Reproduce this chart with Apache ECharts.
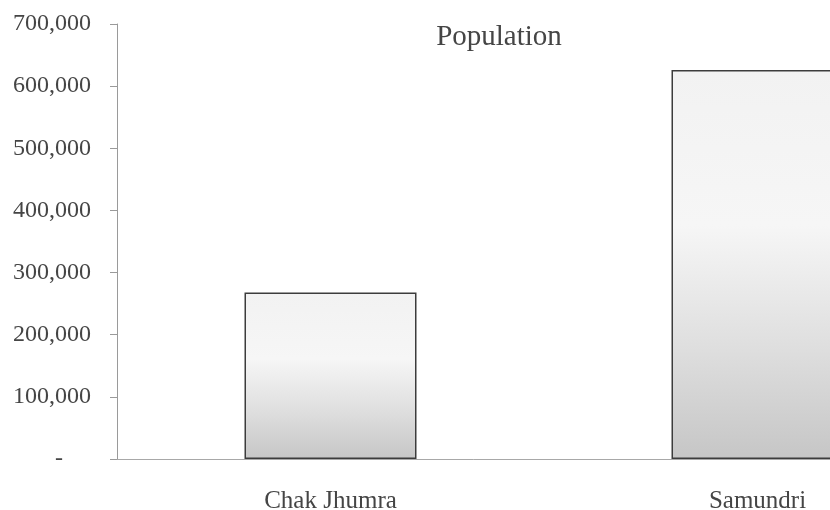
<!DOCTYPE html>
<html>
<head>
<meta charset="utf-8">
<style>
  html, body { margin: 0; padding: 0; background: #ffffff; }
  #chart { width: 830px; height: 510px; }
</style>
<script src="https://cdn.jsdelivr.net/npm/echarts@6/dist/echarts.min.js"></script>
</head>
<body>
<div id="chart"></div>
<script>
// Population by tehsil
const categories = ['Chak Jhumra', 'Samundri'];
const population = [268000, 626000];
const yTicks = { min: 0, max: 700000, interval: 100000 };

const serif = '"Liberation Serif", "Times New Roman", serif';
const textColor = '#454545';

const chart = echarts.init(document.getElementById('chart'));

chart.setOption({
  animation: false,
  backgroundColor: '#ffffff',
  title: {
    text: 'Population',
    left: 494,
    top: 18,
    textAlign: 'center',
    textStyle: { fontFamily: serif, fontSize: 29, fontWeight: 'normal', color: textColor }
  },
  // the plot runs past the right edge, so the second column is cut off
  grid: {
    left: 117, top: 24, width: 854, height: 435,
    containLabel: false,
    outerBoundsMode: 'none'
  },
  xAxis: {
    type: 'category',
    data: categories,
    boundaryGap: true,
    axisLine: { show: true, lineStyle: { color: '#a8a8a8', width: 1 } },
    axisTick: { show: false },
    axisLabel: {
      margin: 30,
      fontFamily: serif,
      fontSize: 25,
      color: textColor
    },
    splitLine: { show: false }
  },
  yAxis: {
    type: 'value',
    min: yTicks.min,
    max: yTicks.max,
    interval: yTicks.interval,
    axisLine: { show: true, lineStyle: { color: '#9a9a9a', width: 1 } },
    axisTick: { show: true, inside: false, length: 7, lineStyle: { color: '#9a9a9a' } },
    splitLine: { show: false },
    axisLabel: {
      margin: 26,
      fontFamily: serif,
      fontSize: 24,
      color: textColor,
      formatter: function (v) {
        if (v === 0) return '{dash|-}';
        return v.toLocaleString('en-US');
      },
      rich: {
        dash: { fontFamily: serif, fontSize: 24, color: textColor, padding: [0, 28, 0, 0] }
      }
    }
  },
  series: [{
    type: 'bar',
    data: population,
    barWidth: 172,
    itemStyle: {
      borderColor: '#3c3c3c',
      borderWidth: 1.5,
      color: new echarts.graphic.LinearGradient(0, 0, 0, 1, [
        { offset: 0, color: '#f2f2f2' },
        { offset: 0.4, color: '#f6f6f6' },
        { offset: 0.72, color: '#dedede' },
        { offset: 1, color: '#c6c6c6' }
      ])
    }
  }]
});
</script>
</body>
</html>
